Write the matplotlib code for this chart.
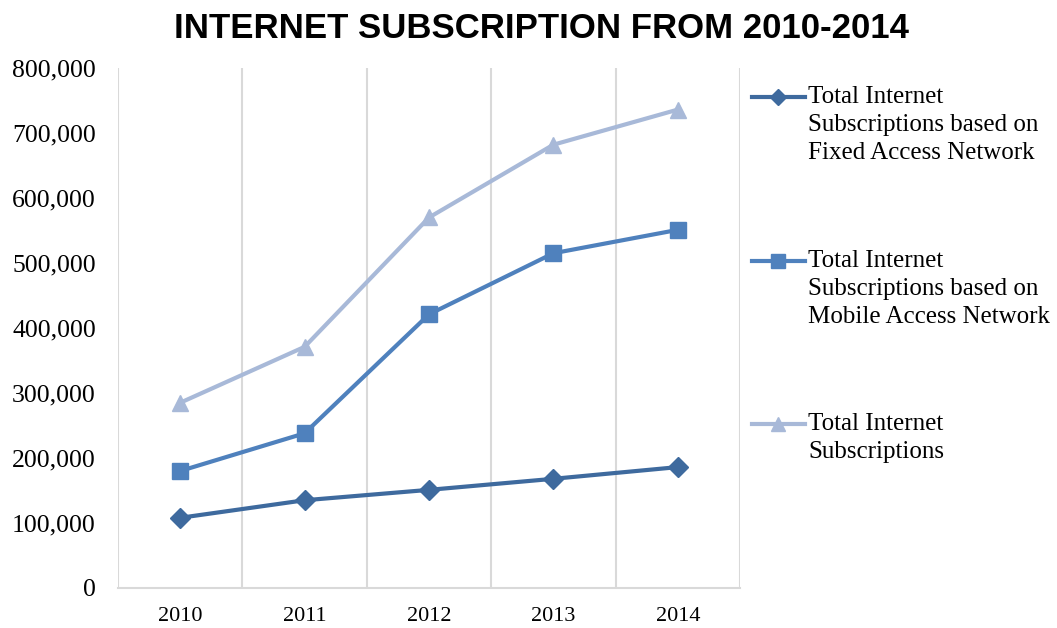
import matplotlib
matplotlib.use("Agg")
import matplotlib.pyplot as plt
from matplotlib.lines import Line2D
from matplotlib.ticker import FuncFormatter

years = ["2010", "2011", "2012", "2013", "2014"]
fixed = [108000, 135000, 151000, 168000, 186000]
mobile = [180000, 238000, 421000, 515000, 551000]
total = [285000, 371000, 570000, 682000, 736000]

labels = ["Total Internet\nSubscriptions based on\nFixed Access Network",
          "Total Internet\nSubscriptions based on\nMobile Access Network",
          "Total Internet\nSubscriptions"]
colors = ["#3E6A9E", "#4F81BD", "#A8B9D8"]
markers = ["D", "s", "^"]
msizes = [10, 12, 12]

serif = ["Liberation Serif", "DejaVu Serif"]

fig = plt.figure(figsize=(10.57, 6.28), dpi=100)
ax = fig.add_axes([118/1057, 40/628, (740-118)/1057, (588-68)/628])

x = list(range(len(years)))
series = [fixed, mobile, total]
for s, c, m, ms in zip(series, colors, markers, msizes):
    ax.plot(x, s, color=c, lw=3, marker=m, markersize=ms, zorder=3)

ax.set_xlim(-0.5, len(years) - 0.5)
ax.set_ylim(0, 800000)
ax.set_yticks(range(0, 800001, 100000))
ax.yaxis.set_major_formatter(FuncFormatter(lambda v, p: f"{int(v):,}"))
ax.set_xticks(x)
ax.set_xticklabels(years)
for b in [i + 0.5 for i in x]:
    ax.axvline(b, color="#D9D9D9", lw=1.5, zorder=1)
ax.axvline(-0.5, color="#D9D9D9", lw=1.5, zorder=1)

for sp in ["top", "right", "left"]:
    ax.spines[sp].set_visible(False)
ax.spines["bottom"].set_color("#D9D9D9")
ax.spines["bottom"].set_linewidth(1.5)
ax.tick_params(length=0)
ax.tick_params(axis="y", pad=16)
ax.tick_params(axis="x", pad=14)
for t in ax.get_yticklabels():
    t.set_family(serif); t.set_fontsize(18.5)
for t in ax.get_xticklabels():
    t.set_family(serif); t.set_fontsize(16)

fig.text(541/1057, 1 - 28/628, "INTERNET SUBSCRIPTION FROM 2010-2014",
         ha="center", va="center", fontsize=25, fontweight="bold",
         family=["Liberation Sans", "DejaVu Sans"])

# legend drawn manually, handle aligned with first text line
ys = [97, 261, 424]
for yy, c, m, ms, lab in zip(ys, colors, markers, msizes, labels):
    fy = 1 - yy / 628
    fig.add_artist(Line2D([752/1057, 805/1057], [fy, fy], color=c, lw=3,
                          transform=fig.transFigure))
    fig.add_artist(Line2D([778/1057], [fy], color=c, marker=m,
                          markersize=ms * 0.85, transform=fig.transFigure))
    fig.text(808/1057, 1 - (yy - 11) / 628, lab, ha="left", va="top",
             fontsize=18, family=serif, linespacing=1.36,
             transform=fig.transFigure)

fig.savefig("out.png", dpi=100)
